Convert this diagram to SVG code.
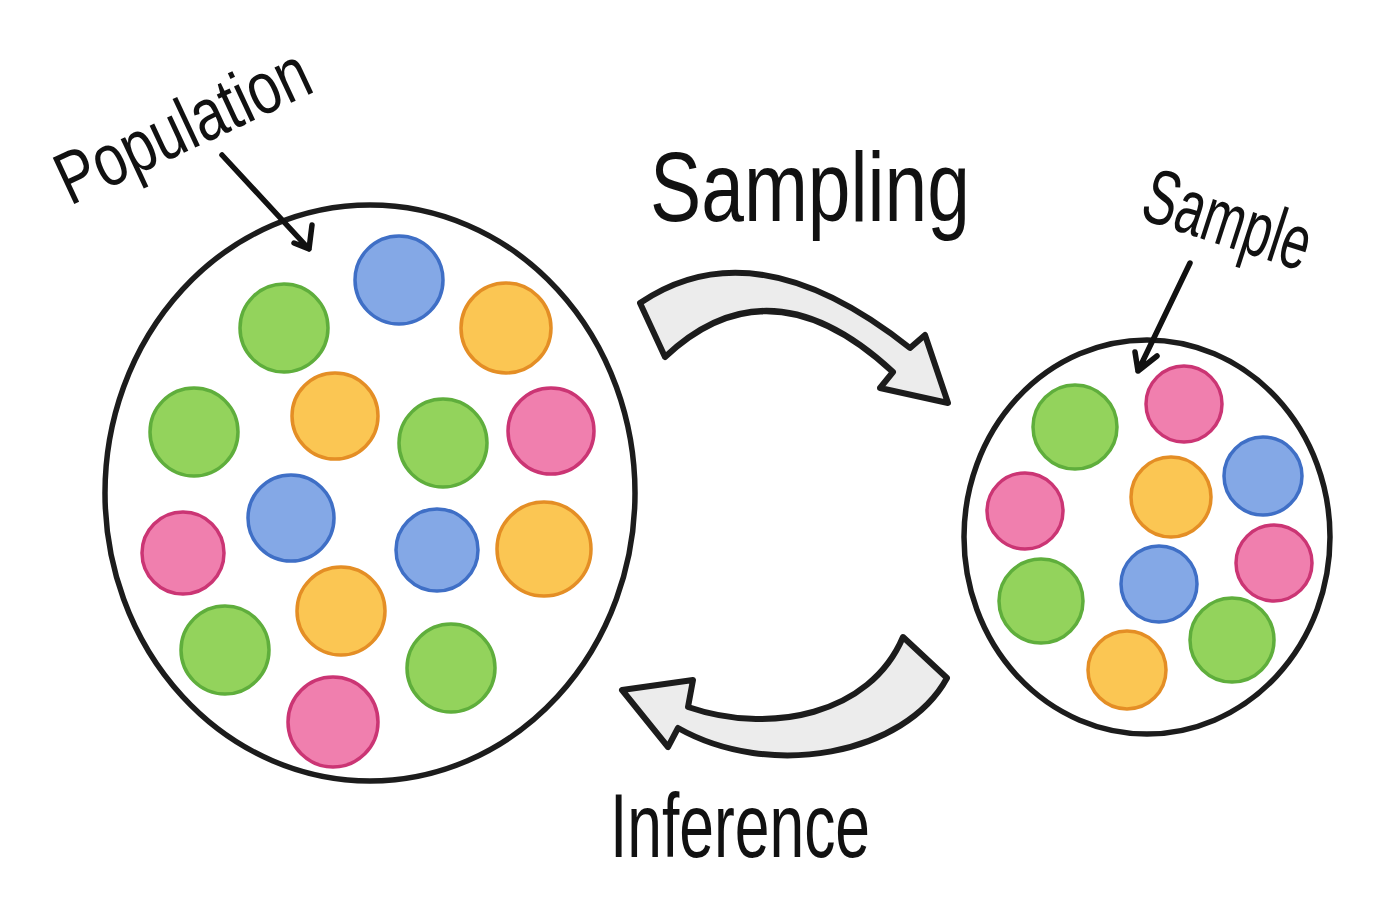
<svg xmlns="http://www.w3.org/2000/svg" width="1399" height="910" viewBox="0 0 1399 910">
<style>
.ring{fill:none;stroke:#1c1c1c;stroke-width:5.5}
.g{fill:#93d35c;stroke:#5fae3c;stroke-width:3.5}
.b{fill:#84a8e6;stroke:#3f6fc6;stroke-width:3.5}
.o{fill:#fbc653;stroke:#e48e25;stroke-width:3.5}
.p{fill:#f07fae;stroke:#cb3574;stroke-width:3.5}
.hand{font-family:"Liberation Sans",Arial,sans-serif;fill:#111}
.bigarrow{fill:#ececec;stroke:#1c1c1c;stroke-width:6;stroke-linejoin:round}
.ptr{fill:none;stroke:#111;stroke-width:5.5;stroke-linecap:round;stroke-linejoin:round}
</style>
<rect width="1399" height="910" fill="#ffffff"/>

<g id="population">
<ellipse class="ring" cx="370" cy="493" rx="265" ry="288"/>
<g id="population-balls">
<circle class="g" cx="284" cy="328" r="44"/>
<circle class="b" cx="399" cy="280" r="44"/>
<circle class="o" cx="506" cy="328" r="45"/>
<circle class="g" cx="194" cy="432" r="44"/>
<circle class="o" cx="335" cy="416" r="43"/>
<circle class="g" cx="443" cy="443" r="44"/>
<circle class="p" cx="551" cy="431" r="43"/>
<circle class="p" cx="183" cy="553" r="41"/>
<circle class="b" cx="291" cy="518" r="43"/>
<circle class="b" cx="437" cy="550" r="41"/>
<circle class="o" cx="544" cy="549" r="47"/>
<circle class="o" cx="341" cy="611" r="44"/>
<circle class="g" cx="225" cy="650" r="44"/>
<circle class="g" cx="451" cy="668" r="44"/>
<circle class="p" cx="333" cy="722" r="45"/>
</g>
<text class="hand" transform="translate(70,206) rotate(-25)" font-size="74" textLength="272" lengthAdjust="spacingAndGlyphs">Population</text>
</g>

<g id="sample">
<ellipse class="ring" cx="1147" cy="537" rx="183" ry="197"/>
<g id="sample-balls">
<circle class="g" cx="1075" cy="427" r="42"/>
<circle class="p" cx="1184" cy="404" r="38"/>
<circle class="p" cx="1025" cy="511" r="38"/>
<circle class="o" cx="1171" cy="497" r="40"/>
<circle class="b" cx="1263" cy="476" r="39"/>
<circle class="p" cx="1274" cy="563" r="38"/>
<circle class="g" cx="1041" cy="601" r="42"/>
<circle class="b" cx="1159" cy="584" r="38"/>
<circle class="g" cx="1232" cy="640" r="42"/>
<circle class="o" cx="1127" cy="670" r="39"/>
</g>
<text class="hand" transform="translate(1138,218) rotate(18)" font-size="78" textLength="172" lengthAdjust="spacingAndGlyphs">Sample</text>
</g>

<g id="connectors">
<g id="sampling">
<path class="bigarrow" d="M640,303 Q755,225 910,348 L925,335 L948,403 L880,388 L893,372 Q770,258 665,357 Z"/>
<text class="hand" x="650" y="221" font-size="98" textLength="320" lengthAdjust="spacingAndGlyphs">Sampling</text>
</g>
<g id="inference">
<path class="bigarrow" d="M903,637 L947,678 C905,755 770,780 678,728 L668,747 L622,690 L693,680 L688,707 C770,735 870,715 903,637 Z"/>
<text class="hand" x="610" y="857" font-size="90" textLength="260" lengthAdjust="spacingAndGlyphs">Inference</text>
</g>
<path class="ptr" d="M222,155 L309,249 M294,243 L309,249 L312,225"/>
<path class="ptr" d="M1190,263 L1138,371 M1135,352 L1138,371 L1157,356"/>
</g>
</svg>
